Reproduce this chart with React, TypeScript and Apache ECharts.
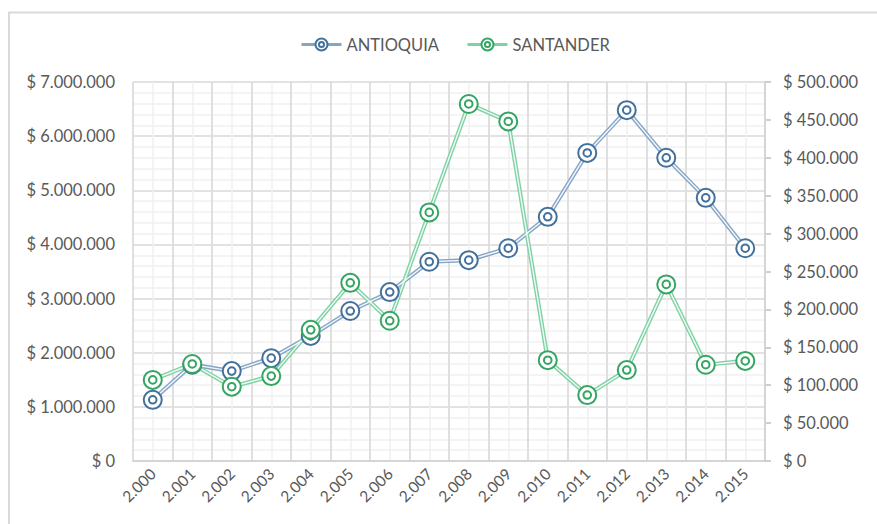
import React, { useEffect, useRef } from "react";
import * as echarts from "echarts";

const years = ["2.000","2.001","2.002","2.003","2.004","2.005","2.006","2.007","2.008","2.009","2.010","2.011","2.012","2.013","2.014","2.015"];
const antioquia = [1130000,1780000,1660000,1900000,2310000,2770000,3120000,3680000,3710000,3930000,4510000,5690000,6480000,5600000,4860000,3930000];
const santander = [107000,128000,98000,112000,173000,235000,185000,328000,471000,448000,133000,87000,120000,233000,127000,132000];
const minorCats = Array.from({ length: 32 }, (_, i) => String(i));

const fmt = (v: number) => "$ " + String(Math.round(v)).replace(/\B(?=(\d{3})+(?!\d))/g, ".");

const ringPath = "path://M10,0A10,10,0,1,1,-10,0A10,10,0,1,1,10,0ZM4.2,0A4.2,4.2,0,1,1,-4.2,0A4.2,4.2,0,1,1,4.2,0Z";

const BLUE_DARK = "#44719c";
const BLUE_LINE = "#86a5c6";
const GREEN_DARK = "#34a563";
const GREEN_LINE = "#7fd3a2";
const FONT = "Lato, 'Open Sans', sans-serif";

function seriesFor(name: string, data: number[], yIdx: number, dark: string, light: string) {
  return [
    {
      type: "line", name: name + "_l", data, yAxisIndex: yIdx, symbol: "none",
      lineStyle: { color: light, width: 4.2 }, z: 2, silent: true,
    },
    {
      type: "line", name: name + "_w", data, yAxisIndex: yIdx, symbol: "none",
      lineStyle: { color: "#f4f8fb", width: 1.4 }, z: 3, silent: true,
    },
    {
      type: "line", name, data, yAxisIndex: yIdx, symbol: ringPath, symbolSize: 18,
      color: dark,
      lineStyle: { opacity: 0 },
      itemStyle: { color: "#ffffff", borderColor: dark, borderWidth: 2 },
      z: 4,
    },
  ];
}

export default function App() {
  const ref = useRef<HTMLDivElement>(null);
  useEffect(() => {
    if (!ref.current) return;
    const chart = echarts.init(ref.current, undefined, { renderer: "svg" });
    chart.setOption({
      animation: false,
      backgroundColor: "#ffffff",
      textStyle: { fontFamily: FONT },
      graphic: [
        {
          type: "rect", shape: { x: 9, y: 12.5, width: 1000, height: 700 },
          style: { fill: "none", stroke: "#d9d9d9", lineWidth: 2 }, silent: true,
        },
      ],
      legend: {
        top: 31, left: 295, itemWidth: 40, itemHeight: 15, itemGap: 27,
        textStyle: { color: "#595959", fontSize: 16.5, fontFamily: FONT },
        data: [
          { name: "ANTIOQUIA", lineStyle: { color: BLUE_LINE, width: 3, opacity: 1 }, itemStyle: { color: "#fff", borderColor: BLUE_DARK, borderWidth: 2 } },
          { name: "SANTANDER", lineStyle: { color: GREEN_LINE, width: 3, opacity: 1 }, itemStyle: { color: "#fff", borderColor: GREEN_DARK, borderWidth: 2 } },
        ],
      },
      grid: { left: 133, right: 112, top: 82, bottom: 63, containLabel: false },
      xAxis: [
        {
          type: "category", data: years, boundaryGap: true, z: 1,
          axisLine: { show: true, lineStyle: { color: "#d0d0d0", width: 1.5 } },
          axisTick: { show: false },
          axisLabel: { rotate: 45, color: "#595959", fontSize: 15.5, fontFamily: FONT, margin: 10, interval: 0 },
          splitLine: { show: true, lineStyle: { color: "#d9d9d9", width: 1.5 } },
        },
        {
          type: "category", data: minorCats, boundaryGap: true, show: true, z: 0,
          position: "bottom",
          axisLine: { show: false }, axisTick: { show: false }, axisLabel: { show: false },
          splitLine: { show: true, lineStyle: { color: "#f0f0f0", width: 1.5 } },
        },
      ],
      yAxis: [
        {
          type: "value", min: 0, max: 7000000, interval: 1000000, position: "left",
          axisLine: { show: false }, axisTick: { show: false },
          axisLabel: { formatter: fmt, color: "#595959", fontSize: 16.5, fontFamily: FONT, margin: 18 },
          splitLine: { show: true, lineStyle: { color: "#d9d9d9", width: 1.5 } },
          minorTick: { show: false, splitNumber: 5 },
          minorSplitLine: { show: true, lineStyle: { color: "#f0f0f0", width: 1.5 } },
        },
        {
          type: "value", min: 0, max: 500000, interval: 50000, position: "right",
          axisLine: { show: true, lineStyle: { color: "#bfbfbf", width: 1.5 } },
          axisTick: { show: true, inside: false, length: 6, lineStyle: { color: "#bfbfbf", width: 1.5 } },
          axisLabel: { formatter: fmt, color: "#595959", fontSize: 16.5, fontFamily: FONT, margin: 18 },
          splitLine: { show: false },
        },
      ],
      series: [
        ...seriesFor("ANTIOQUIA", antioquia, 0, BLUE_DARK, BLUE_LINE),
        ...seriesFor("SANTANDER", santander, 1, GREEN_DARK, GREEN_LINE),
      ],
    });
    return () => chart.dispose();
  }, []);
  return <div ref={ref} style={{ position: "absolute", left: 0, top: 0, width: 877, height: 524 }} />;
}
